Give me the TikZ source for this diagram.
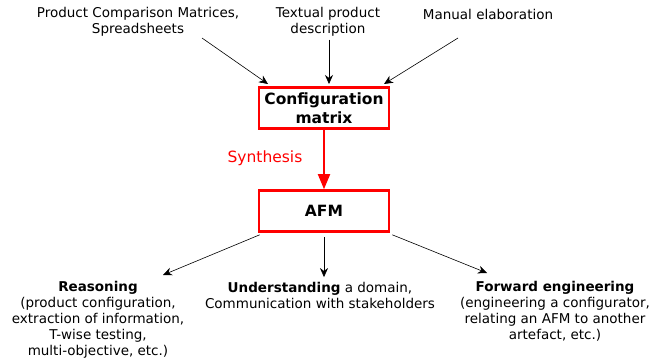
\documentclass[tikz,border=0pt]{standalone}
\usepackage{fontspec}
\setmainfont{DejaVu Sans}
\usetikzlibrary{arrows.meta}

\begin{document}
\begin{tikzpicture}[x=1pt, y=-1pt, font=\fontsize{13.5}{16}\selectfont]
        \useasboundingbox (0, 0) rectangle (662, 364);

        \tikzset{
            redbox/.style={draw=red, line width=2.6pt, minimum width=130, minimum height=41, align=center, inner sep=0, font=\fontsize{15.5}{19}\selectfont\bfseries},
            info/.style={align=center, inner sep=0},
            feed/.style={-{Stealth[length=9pt, width=8pt]}, semithick},
        }

        \node[info] (pcm) at (138, 22) {Product Comparison Matrices,\\Spreadsheets};
        \node[info] (txt) at (328, 22) {Textual product\\description};
        \node[info] (man) at (488, 14) {Manual elaboration};

        \node[redbox] (conf) at (324, 108) {Configuration\\matrix};
        \node[redbox] (afm) at (324, 211) {AFM};

        \coordinate (pcmend) at (202, 38);
        \coordinate (manend) at (458, 38);

        \draw[feed] (pcmend) -- (268, 84);
        \draw[feed] ([xshift=1, yshift=-3]txt.south) -- (329, 84);
        \draw[feed] (manend) -- (384, 84);

        \draw[-{Triangle[length=15pt, width=12pt]}, red, line width=1.8pt] (conf.south) -- (afm.north);
        \node[red, font=\fontsize{15.5}{18}\selectfont] (syn) at (265, 158) {Synthesis};

        \node[info] (rea) at (98, 320) {\textbf{Reasoning}\\(product configuration,\\extraction of information,\\T-wise testing,\\multi-objective, etc.)};
        \node[info] (und) at (320, 295.5) {\textbf{Understanding} a domain,\\Communication with stakeholders};
        \node[info] (fwd) at (555, 311.5) {\textbf{Forward engineering}\\(engineering a configurator,\\relating an AFM to another\\artefact, etc.)};

        \draw[feed] ([xshift=2, yshift=-2]afm.south west) -- (163, 275);
        \draw[feed] ([yshift=-4]afm.south) -- ([xshift=4, yshift=5]und.north);
        \draw[feed] ([xshift=2, yshift=-2]afm.south east) -- (487, 273);

    \end{tikzpicture}
\end{document}
